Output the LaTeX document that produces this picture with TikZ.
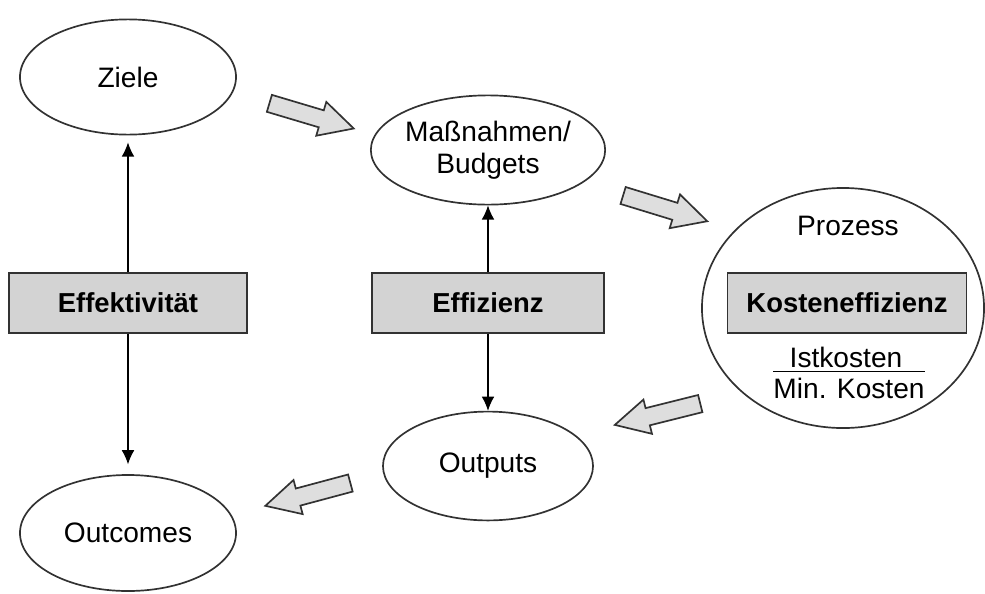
\documentclass[tikz,border=0pt]{standalone}
\usepackage{fontspec}
\setmainfont{Liberation Sans}
\usetikzlibrary{arrows.meta,shapes,positioning,calc}
\definecolor{boxgray}{RGB}{211,211,211}
\definecolor{flowgray}{RGB}{222,222,222}
\definecolor{edgegray}{RGB}{50,50,50}

\begin{document}
\begin{tikzpicture}[
    x=0.025cm, y=-0.025cm,
    every node/.style={font=\fontsize{20}{23}\selectfont},
    oval/.style={ellipse, draw=edgegray, line width=1.2pt, align=center, inner sep=0pt},
    box/.style={rectangle, draw=edgegray, fill=boxgray, line width=1.2pt,
                minimum height=1.5cm, font=\fontsize{19.5}{23}\selectfont\bfseries},
    flow/.style={single arrow, draw=edgegray, fill=flowgray, line width=1.2pt,
                 minimum height=2.2cm, inner sep=0pt, text height=0.4cm, text depth=0pt,
                 single arrow head extend=0.22cm, single arrow tip angle=55},
    link/.style={-{Latex[length=10pt,width=9pt]}, line width=0.8pt}
]
    \useasboundingbox (0,0) rectangle (985,593);

    % Ellipses
    \node[oval, minimum width=5.4cm, minimum height=2.88cm] (ziele) at (128,77) {Ziele};
    \node[oval, minimum width=5.4cm, minimum height=2.73cm] (mass) at (488,150) {Maßnahmen/\\Budgets};
    \node[oval, minimum width=5.25cm, minimum height=2.72cm] (outputs) at (488,466) {Outputs};
    \node[oval, minimum width=5.4cm, minimum height=2.9cm] (outcomes) at (128,533) {Outcomes};
    \node[oval, minimum width=7.05cm, minimum height=6cm] (prozess) at (843,308) {};

    % Prozess contents
    \node (prozesslabel) at (848,226) {Prozess};
    \node[box, minimum width=5.975cm] (kosten) at (847,303) {Kosteneffizienz};
    \node (ist) at (846,357) {Istkosten};
    \node[inner xsep=0pt, inner ysep=4pt] (minkost) at (849,388) {Min. Kosten};
    \draw[line width=1pt] (minkost.north west) -- (minkost.north east);

    % Boxes
    \node[box, minimum width=5.95cm] (effekt) at (128,303) {Effektivität};
    \node[box, minimum width=5.8cm] (effiz) at (488,303) {Effizienz};

    % Arrows
    \draw[link, shorten >=5pt] (effekt) -- (ziele);
    \draw[link, shorten >=7pt] (effekt) -- (outcomes);
    \draw[link] (effiz) -- (mass);
    \draw[link] (effiz) -- (outputs);

    % Block arrows
    \node[flow, rotate=-16.6] (flow1) at ($(ziele.east)!0.5!(mass.west)$) {};
    \node[flow, rotate=-17] (flow2) at ($(mass.south east)!0.5!(prozess.north west)$) {};
    \node[flow, rotate=194] (flow3) at ($(prozess.south west)!0.5!(outputs.north east)+(13,2)$) {};
    \node[flow, rotate=195] (flow4) at ($(outputs.south west)!0.5!(outcomes.north east)+(7,-6)$) {};
\end{tikzpicture}
\end{document}
